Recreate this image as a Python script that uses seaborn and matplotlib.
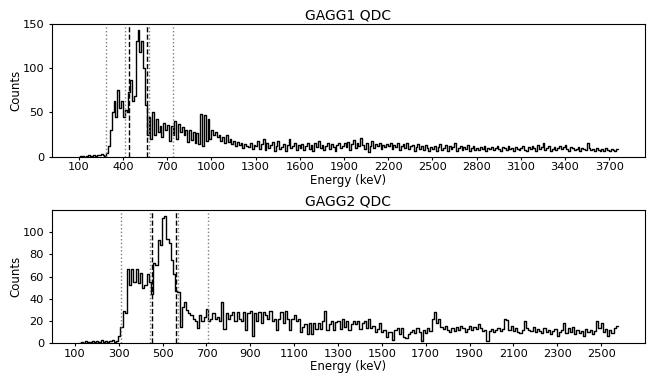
import numpy as np
import pandas as pd
import seaborn as sns
import matplotlib
matplotlib.use('Agg')
import matplotlib.pyplot as plt

# ---- GAGG1: counts per bin, 100 -> 3760 keV ----
gagg1_range = (100, 3760)
gagg1_counts = [
    0, 1, 1, 0, 1, 2, 1, 1, 2, 1, 2, 2, 3, 2, 1,
    4, 12, 30, 50, 63, 45, 75, 55, 63, 45, 53, 50, 73, 86, 63,
    68, 130, 143, 118, 131, 100, 58, 25,
    45, 20, 50, 25, 42, 28, 35, 22, 38, 30, 36, 18, 35, 25, 40, 20, 37,
    28, 33, 24, 30, 17, 30, 19, 28, 16, 27, 14, 48, 12, 47, 18, 42, 20,
    30, 25, 28, 22, 25, 18, 22, 15, 24, 17, 20, 14, 18, 12, 17, 13, 16, 10, 14, 12, 11, 15, 9, 13,
    12, 18, 9, 14, 20, 8, 15, 10, 13, 17, 7, 12, 18, 9, 11, 14, 6, 13, 20, 10, 12, 15, 8, 13,
    10, 14, 8, 12, 16, 9, 13, 7, 15, 11, 18, 10, 13, 8, 12, 16, 9, 14, 11, 7, 13, 15, 10, 12,
    15, 11, 17, 8, 14, 19, 10, 16, 12, 21, 13, 9, 15, 5, 12, 18, 10, 14, 12, 16, 9, 13, 11, 14,
    12, 16, 9, 13, 11, 15, 8, 12, 14, 10, 16, 9, 12, 13, 7, 11, 14, 9, 12, 8, 13, 10, 6, 11,
    9, 12, 7, 11, 14, 8, 10, 13, 6, 12, 9, 11, 15, 7, 10, 12, 8, 11, 9, 13, 7, 10, 12, 8,
    10, 8, 11, 9, 12, 7, 10, 9, 11, 8, 10, 12, 9, 7, 11, 10, 8, 12, 9, 10, 7, 11, 9, 8,
    10, 12, 8, 6, 11, 9, 12, 10, 7, 13, 9, 11, 15, 8, 10, 12, 7, 9, 11, 8, 10, 12, 9, 11,
    13, 9, 7, 11, 10, 8, 9, 11, 7, 10, 9, 8, 16, 10, 8, 9, 7, 10, 8, 6, 9, 7, 10, 8, 6, 9, 8, 7, 9,
]
gagg1_dotted = [288, 412, 578, 741]
gagg1_dashed = [440, 562]
gagg1_xticks = list(range(100, 3800, 300))
gagg1_yticks = [0, 50, 100, 150]

# ---- GAGG2: counts per bin, 117 -> 2577 keV ----
gagg2_range = (117, 2577)
gagg2_counts = [
    0, 1, 0, 2, 1, 1, 2, 1, 2, 1, 3, 1, 2, 1, 2, 3, 1, 2,
    7, 15, 29, 27,
    67, 52, 67, 55, 67, 54, 63, 50, 52, 62, 55, 44,
    72, 70, 93, 88, 113, 114, 94, 90, 75, 62, 47, 46, 15,
    33, 37, 30, 27, 25, 22, 20, 14, 25, 20,
    24, 31, 20, 22, 27, 22, 24, 20, 37, 13,
    27, 22, 25, 28, 20, 28, 22, 20, 28, 12,
    27, 29, 7, 27, 20, 28, 18, 28, 25, 22,
    29, 20, 22, 12, 22, 28, 18, 29, 22, 12,
    22, 25, 20, 22, 10, 15, 17, 8, 18, 8,
    18, 13, 18, 13, 20, 29, 12, 17, 20, 12,
    19, 20, 13, 22, 15, 20, 12, 17, 20, 17,
    20, 13, 18, 20, 14, 22, 14, 16, 10, 13,
    18, 10, 12, 6, 10, 10, 3, 12, 14, 8,
    14, 6, 5, 8, 10, 12, 9, 14,
    10, 2, 12, 9, 14, 11, 22, 28,
    18, 22, 15, 13, 16, 12, 10, 14,
    11, 15, 12, 16, 14, 10, 13, 16,
    12, 15, 13, 17, 14, 11, 12, 2,
    11, 13, 10, 12, 14, 11, 13, 22,
    21, 12, 16, 11, 14, 10, 9, 12,
    20, 14, 12, 11, 15, 10, 13, 11,
    9, 14, 10, 12, 8, 11, 13, 7,
    10, 12, 18, 9, 14, 10, 15, 8,
    12, 9, 11, 7, 13, 10, 12, 8,
    11, 20, 14, 18, 10, 13, 7, 12,
    9, 14, 16,
]
gagg2_dotted = [308, 444, 571, 709]
gagg2_dashed = [453, 562]
gagg2_xticks = list(range(100, 2600, 200))
gagg2_yticks = [0, 20, 40, 60, 80, 100]

sns.set_style('ticks')
plt.rcParams['font.family'] = ['DejaVu Sans']
plt.rcParams.update({'text.color': 'black', 'axes.labelcolor': 'black',
                     'xtick.color': 'black', 'ytick.color': 'black',
                     'axes.edgecolor': 'black'})

fig, axes = plt.subplots(2, 1, figsize=(6.51, 3.75), dpi=100)
fig.subplots_adjust(left=0.0794, right=0.9908, top=0.9373, bottom=0.0845, hspace=0.40)

panels = [
    ('GAGG1 QDC', gagg1_counts, gagg1_range, gagg1_dotted, gagg1_dashed, gagg1_xticks, gagg1_yticks),
    ('GAGG2 QDC', gagg2_counts, gagg2_range, gagg2_dotted, gagg2_dashed, gagg2_xticks, gagg2_yticks),
]

for ax, (title, counts, rng, dotted, dashed, xt, yt) in zip(axes, panels):
    edges = np.linspace(rng[0], rng[1], len(counts) + 1)
    df = pd.DataFrame({'energy': 0.5 * (edges[:-1] + edges[1:]),
                       'n': np.asarray(counts, dtype=float)})
    sns.histplot(data=df, x='energy', weights='n', bins=list(edges), element='step',
                 fill=False, color='black', linewidth=1.0, ax=ax)
    for v in dotted:
        ax.axvline(v, color='gray', linestyle=':', linewidth=1.0)
    for v in dashed:
        ax.axvline(v, color='black', linestyle='--', linewidth=1.0)
    ax.set_ylim(bottom=0)
    ax.set_xticks(xt)
    ax.set_yticks(yt)
    ax.tick_params(labelsize=8.2, length=2.5, width=0.8)
    ax.tick_params(axis='x', pad=1.5)
    ax.tick_params(axis='y', pad=3.0)
    ax.set_title(title, fontsize=10, pad=3)
    ax.set_xlabel('Energy (keV)', fontsize=8.5, labelpad=1)
    ax.set_ylabel('Counts', fontsize=8.5, labelpad=0)
    for s in ax.spines.values():
        s.set_linewidth(0.8)

fig.savefig('out.png', dpi=100)
